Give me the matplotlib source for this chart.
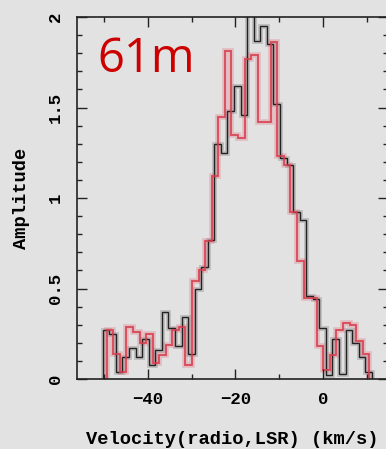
import numpy as np
import matplotlib.pyplot as plt
from matplotlib.ticker import MultipleLocator

# spectra (amplitude per channel), channel width 1.5 km/s
black_v0 = -50.3
red_v0 = -49.4
chan_width = 1.5
black_amp = [0.27, 0.25, 0.04, 0.12, 0.17, 0.12, 0.22, 0.08, 0.16, 0.37,
             0.28, 0.18, 0.34, 0.14, 0.50, 0.62, 0.77, 1.30, 1.25, 1.48,
             1.62, 1.46, 2.30, 1.87, 1.95, 1.85, 1.52, 1.22, 1.18, 0.92,
             0.88, 0.46, 0.44, 0.28, 0.02, 0.22, 0.03, 0.27, 0.20, 0.12,
             0.04]
red_amp = [0.27, 0.14, 0.04, 0.29, 0.26, 0.20, 0.25, 0.09, 0.13, 0.19,
           0.27, 0.29, 0.08, 0.54, 0.60, 0.76, 1.12, 1.45, 1.81, 1.35,
           1.33, 1.77, 1.79, 1.42, 1.42, 1.86, 1.23, 1.18, 0.92, 0.65,
           0.45, 0.45, 0.18, 0.05, 0.13, 0.27, 0.31, 0.30, 0.21, 0.14]

bg = '#e2e2e2'
fig = plt.figure(figsize=(3.86, 4.49), dpi=100, facecolor=bg)
ax = fig.add_axes([77 / 386, 1 - 379 / 449, 311 / 386, 362 / 449], facecolor=bg)

black_edges = black_v0 + chan_width * np.arange(len(black_amp) + 1)
red_edges = red_v0 + chan_width * np.arange(len(red_amp) + 1)

# blurry underlay, like the scanned original
ax.stairs(black_amp, black_edges, color='#555555', lw=3.5, alpha=0.25)
ax.stairs(red_amp, red_edges, color='#e06070', lw=4, alpha=0.3)
ax.stairs(black_amp, black_edges, color='#222222', lw=1.0)
ax.stairs(red_amp, red_edges, color='#d83c4c', lw=1.3, alpha=0.9)

ax.set_xlim(-56.2, 14.9)
ax.set_ylim(0, 2)
ax.xaxis.set_major_locator(MultipleLocator(20))
ax.xaxis.set_minor_locator(MultipleLocator(10))
ax.yaxis.set_major_locator(MultipleLocator(0.5))
ax.yaxis.set_minor_locator(MultipleLocator(0.1))
ax.tick_params(which='both', direction='in', top=True, right=True, color='#222222')
ax.tick_params(which='major', length=7, width=1)
ax.tick_params(which='minor', length=3.5, width=1)
for s in ax.spines.values():
    s.set_color('#222222')
    s.set_linewidth(1.2)

mono = {'family': 'Liberation Mono', 'weight': 'bold'}
ax.set_xticks([-40, -20, 0])
ax.set_xticklabels(['\u221240', '\u221220', '0'], fontdict=mono, fontsize=12.5)
ax.set_yticks([0, 0.5, 1, 1.5, 2])
ax.set_yticklabels(['0', '0.5', '1', '1.5', '2'], fontdict=mono, fontsize=12.5,
                   rotation=90, va='center')
ax.tick_params(axis='x', pad=9)
ax.tick_params(axis='y', pad=10)

ax.set_xlabel('Velocity(radio,LSR) (km/s)', fontdict=mono, fontsize=13.5, labelpad=18)
ax.set_ylabel('Amplitude', fontdict=mono, fontsize=13.5, labelpad=13)

fig.text(97 / 386, 1 - 72 / 449, '61m', color='#cc0000', fontsize=34,
         family='Open Sans', ha='left', va='baseline')

fig.savefig('out.png', dpi=100, facecolor=bg)
